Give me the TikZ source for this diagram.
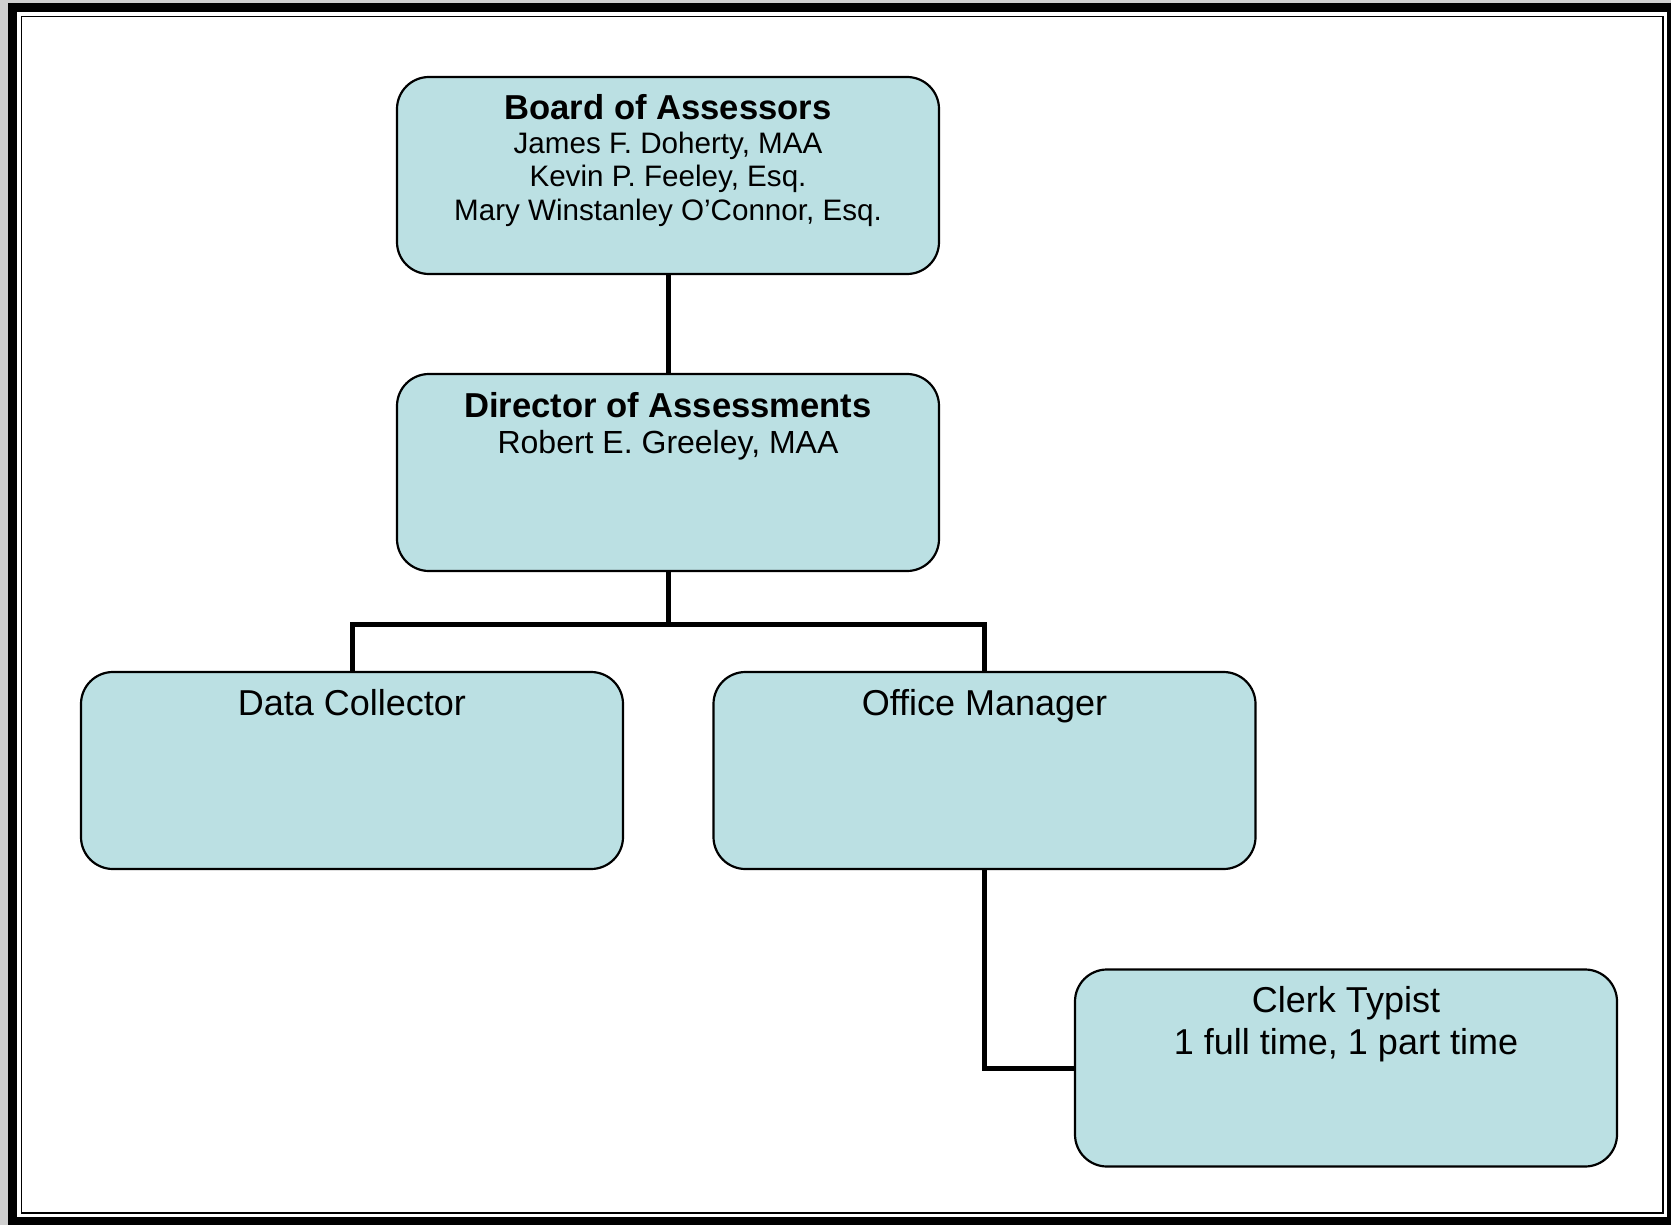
\documentclass[tikz,border=0pt]{standalone}
\usepackage{fontspec}
\setmainfont{Liberation Sans}
\definecolor{boxfill}{HTML}{BBE0E3}
\definecolor{pagegray}{HTML}{CFCFCF}
\tikzset{
  orgbox/.style={draw=black, line width=2.2pt, fill=boxfill, rounded corners=32pt,
    minimum width=542pt, minimum height=197pt, inner sep=0pt},
  conn/.style={draw=black, line width=5pt},
  ttl/.style={anchor=base, inner sep=0pt, font=\fontsize{34.6}{40}\selectfont\bfseries},
  nm/.style={anchor=base, inner sep=0pt, font=\fontsize{29.6}{34}\selectfont},
  big/.style={anchor=base, inner sep=0pt, font=\fontsize{36}{40}\selectfont},
  mid/.style={anchor=base, inner sep=0pt, font=\fontsize{32}{38}\selectfont}
}
\begin{document}
\begin{tikzpicture}[x=1pt,y=-1pt]
\useasboundingbox (0,0) rectangle (1671,1225);
% frame
\fill[pagegray] (0,0) rectangle (1671,1225);
\fill[black] (8,3) rectangle (1671,1225);
\fill[white] (17,12) rectangle (1667,1217);
\draw[black, line width=1.6pt] (21.5,16.5) rectangle (1663,1213);
% boxes
\node[orgbox] (board) at (668,175.5) {};
\node[orgbox] (dir) at (668,472.5) {};
\node[orgbox] (dc) at (352,770.5) {};
\node[orgbox] (om) at (984.5,770.5) {};
\node[orgbox] (clerk) at (1346,1068) {};
% connectors
\coordinate (bus) at (668,624);
\draw[conn] (board.south) -- (dir.north);
\draw[conn] (dir.south) -- (bus);
\draw[conn] (dc.north) |- (bus) -| (om.north);
\draw[conn] (om.south) |- (clerk.west);
% texts
\node[ttl] (bt) at (668,119.5) {Board of Assessors};
\node[nm] (b1) at (668,153.5) {James F. Doherty, MAA};
\node[nm] (b2) at (668,186.5) {Kevin P. Feeley, Esq.};
\node[nm] (b3) at (668,220.5) {Mary Winstanley O’Connor, Esq.};
\node[ttl] (dt) at (668,417) {Director of Assessments};
\node[mid] (d1) at (668,453.5) {Robert E. Greeley, MAA};
\node[big] (dct) at (352,715) {Data Collector};
\node[big] (omt) at (984.5,715) {Office Manager};
\node[big] (ct) at (1346,1012.5) {Clerk Typist};
\node[big] (c1) at (1346,1054) {1 full time, 1 part time};
\end{tikzpicture}
\end{document}
